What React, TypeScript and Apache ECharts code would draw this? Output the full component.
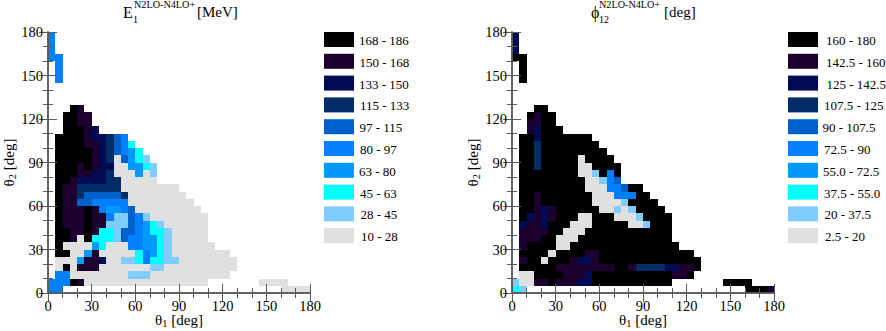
import React, { useEffect, useRef } from "react";
import * as echarts from "echarts";

// One string per theta2 row (row 0 = 0-5 deg), one character per theta1 column of 5 deg.
// Character = colour band index (0 = top legend entry ... 9 = bottom legend entry), "." = no cell.
const energyRows: string[] = [
  "55..............................9999",
  "5550199999999999999999.......9999",
  ".559999999988899999999999",
  ".9091119999999889999999999",
  ".9996112998875778899999999",
  ".0099619999975678" + "99999999",
  ".0999967999556678999999",
  ".0019077784556678" + "99999",
  ".0011017784456778" + "99999",
  ".011101188845678999999",
  ".011101158845899999999",
  ".01110156654" + "999999999",
  ".0114455555999999999",
  ".0113444443" + "99999999",
  ".011333333" + "99999999",
  ".00122223399999",
  ".00011223999698",
  ".00010122996678",
  ".0000012394678",
  ".000001234567",
  ".00001123457",
  ".0000122345",
  "..00012",
  "..0011",
  "..0011",
  "...01",
  "",
  "",
  "",
  ".5",
  ".5",
  ".5",
  "55",
  "5",
  "5",
  "5",
];

const phiRows: string[] = [
  "78..............................0001",
  "89911011122" + "00000000000" + "......." + "0000",
  ".9900001112" + "00000000000" + "110",
  ".00000" + "11111111" + "00" + "1" + "3333" + "22" + "11" + "0",
  ".10090001221" + "00000000000000",
  ".000090000" + "11" + "0000000000000",
  ".1000099" + "000000000000000",
  ".11100999" + "0000000000000",
  ".111100999" + "000000000000",
  ".2112000999" + "00000" + "998" + "000",
  ".02121" + "000" + "99" + "000" + "999" + "8" + "0000",
  ".00121" + "000000" + "99" + "898" + "0000",
  ".001" + "0000000" + "9999" + "8" + "0000",
  ".001" + "0000000" + "999" + "555" + "00",
  ".000000000" + "999" + "55" + "4" + "00",
  ".000000000" + "99" + "854",
  ".00000000" + "99" + "8050",
  ".003" + "00000" + "99" + "0000",
  ".003" + "00000" + "9" + "0000",
  ".003" + "000000000",
  ".003" + "00000000",
  ".002" + "0000000",
  "..12000",
  "..1100",
  "..0100",
  "...00",
  "",
  "",
  "",
  ".0",
  ".0",
  ".0",
  "00",
  "2",
  "2",
  "2",
];

const bandColors = [
  "#000000", "#1c0030", "#000a55", "#002d66", "#0060cc",
  "#0080ff", "#0099ff", "#00ffff", "#80ccff", "#e0e0e0",
];
const energyLegend = [
  "168 - 186", "150 - 168", "133 - 150", "115 - 133", "97 - 115",
  "80 - 97", "63 - 80", "45 - 63", "28 - 45", "10 - 28",
];
const phiLegend = [
  "160 - 180", "142.5 - 160", "125 - 142.5", "107.5 - 125", "90 - 107.5",
  "72.5 - 90", "55.0 - 72.5", "37.5 - 55.0", "20 - 37.5", "2.5 - 20",
];
const energyLegendX = [359, 359.5, 359, 360, 359.5, 360, 359, 360, 360.5, 361];
const phiLegendX = [826, 826, 826.5, 824, 822.5, 824, 823, 824, 824.5, 825];

const FONT = "'Liberation Serif', 'Times New Roman', serif";
const CELL = 5;
const AXIS_COLOR = "#5a5a5a";

const toCells = (rows: string[]) => {
  const out: number[][] = [];
  rows.forEach((row, r) => {
    row.split("").forEach((ch, c) => {
      if (ch !== ".") out.push([c * CELL, r * CELL, Number(ch)]);
    });
  });
  return out;
};

const renderCell = (_: any, api: any) => {
  const x = api.value(0);
  const y = api.value(1);
  const a = api.coord([x, y + CELL]);
  const b = api.coord([x + CELL, y]);
  const left = Math.round(a[0]);
  const top = Math.round(a[1]);
  return {
    type: "rect",
    shape: { x: left, y: top, width: Math.round(b[0]) - left, height: Math.round(b[1]) - top },
    style: { fill: bandColors[api.value(2)] },
  };
};

const sharedAxis = {
  type: "value",
  min: 0,
  max: 180,
  interval: 30,
  z: 5,
  axisLine: { show: true, lineStyle: { color: AXIS_COLOR, width: 1.5 } },
  axisTick: { show: true, inside: true, length: 9, lineStyle: { color: AXIS_COLOR, width: 1 } },
  minorTick: { show: true, splitNumber: 3, length: 5, lineStyle: { color: AXIS_COLOR, width: 1 } },
  splitLine: { show: false },
  minorSplitLine: { show: false },
};

const nameRich = {
  a: { fontFamily: FONT, fontSize: 15, lineHeight: 18, color: "#000" },
  s: { fontFamily: FONT, fontSize: 10.5, lineHeight: 8, verticalAlign: "bottom", color: "#000" },
};

const labelStyle = { show: true, fontFamily: FONT, fontSize: 14.5, color: "#000" };

const xPair = (gridIndex: number) => [
  {
    ...sharedAxis,
    gridIndex,
    position: "bottom",
    axisLabel: { ...labelStyle, margin: 5 },
    name: "{a|\u03b8}{s|1}{a| [deg]}",
    nameLocation: "middle",
    nameGap: 18,
    nameMoveOverlap: false,
    nameTextStyle: { rich: nameRich },
  },
  { ...sharedAxis, gridIndex, position: "top", axisLabel: { show: false } },
];

const yPair = (gridIndex: number) => [
  {
    ...sharedAxis,
    gridIndex,
    position: "left",
    axisLabel: { ...labelStyle, margin: 5 },
    name: "{a|\u03b8}{s|2}{a| [deg]}",
    nameLocation: "middle",
    nameGap: 30,
    nameMoveOverlap: false,
    nameRotate: 90,
    nameTextStyle: { rich: nameRich },
  },
  { ...sharedAxis, gridIndex, position: "right", axisLabel: { show: false } },
];

const text = (x: number, y: number, str: string, fontSize: number, extra: any = {}) => ({
  type: "text",
  x,
  y,
  silent: true,
  style: { text: str, fontFamily: FONT, fontSize, fill: "#000", verticalAlign: "middle", ...extra },
});

const legendGraphics = (swatchX: number, labels: string[], labelX: number[]) =>
  labels.flatMap((label, i) => {
    const y = 32 + i * 21.8;
    return [
      {
        type: "rect",
        silent: true,
        shape: { x: swatchX, y, width: 30, height: 15 },
        style: { fill: bandColors[i] },
      },
      text(labelX[i], y + 8.5, label, 13),
    ];
  });

export default function App() {
  const ref = useRef<HTMLDivElement>(null);
  useEffect(() => {
    const chart = echarts.init(ref.current as HTMLDivElement, undefined, { renderer: "svg" });
    chart.setOption({
      animation: false,
      backgroundColor: "#fff",
      grid: [
        { left: 48, top: 32, width: 262, height: 261, outerBoundsMode: "none" },
        { left: 512, top: 32, width: 262, height: 261, outerBoundsMode: "none" },
      ],
      xAxis: [...xPair(0), ...xPair(1)],
      yAxis: [...yPair(0), ...yPair(1)],
      series: [
        {
          type: "custom",
          xAxisIndex: 0,
          yAxisIndex: 0,
          silent: true,
          progressive: 0,
          renderItem: renderCell,
          encode: { x: 0, y: 1 },
          data: toCells(energyRows),
        },
        {
          type: "custom",
          xAxisIndex: 2,
          yAxisIndex: 2,
          silent: true,
          progressive: 0,
          renderItem: renderCell,
          encode: { x: 0, y: 1 },
          data: toCells(phiRows),
        },
      ],
      graphic: [
        text(123, 12, "E", 16),
        text(133, 19.5, "1", 10),
        text(134, 4.5, "N2LO-N4LO+", 10.2),
        text(197, 12, "[MeV]", 15),
        text(591, 12, "\u03d5", 16),
        text(599, 19, "12", 10),
        text(599, 4.5, "N2LO-N4LO+", 10.2),
        text(664, 12, "[deg]", 15),
        ...legendGraphics(324, energyLegend, energyLegendX),
        ...legendGraphics(788, phiLegend, phiLegendX),
      ],
    });
    return () => chart.dispose();
  }, []);
  return <div ref={ref} style={{ position: "fixed", left: 0, top: 0, width: 886, height: 331 }} />;
}
